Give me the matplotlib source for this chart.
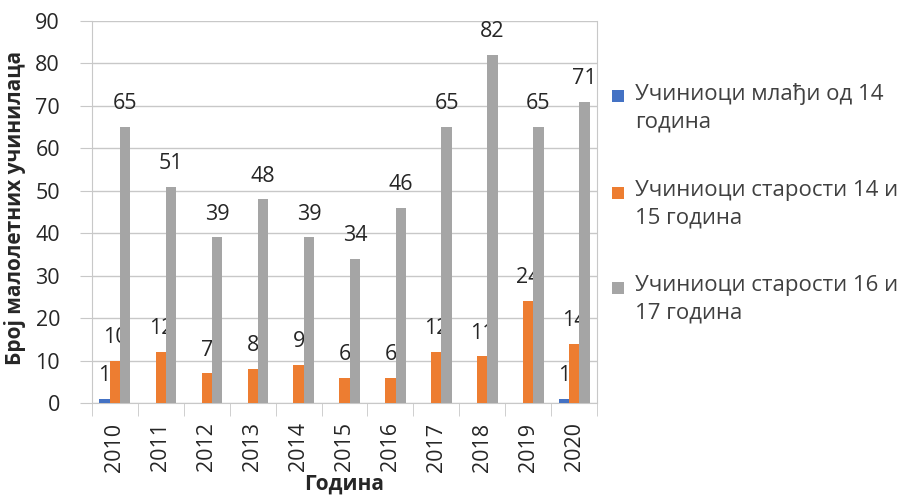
import matplotlib
matplotlib.use("Agg")
import matplotlib.pyplot as plt
from matplotlib.patches import Rectangle
import numpy as np

plt.rcParams['font.family'] = ['Open Sans', 'DejaVu Sans']

# data
years = ['2010', '2011', '2012', '2013', '2014', '2015', '2016', '2017', '2018', '2019', '2020']
under_14 = [1, 0, 0, 0, 0, 0, 0, 0, 0, 0, 1]
age_14_15 = [10, 12, 7, 8, 9, 6, 6, 12, 11, 24, 14]
age_16_17 = [65, 51, 39, 48, 39, 34, 46, 65, 82, 65, 71]
labels = ['Учиниоци млађи од 14\nгодина',
          'Учиниоци старости 14 и\n15 година',
          'Учиниоци старости 16 и\n17 година']
colors = ['#4472C4', '#ED7D31', '#A5A5A5']
txt = '#262626'
grid = '#C8C8C8'

W, H = 905, 495
fig = plt.figure(figsize=(W / 100, H / 100), dpi=100)
ax = fig.add_axes([92 / W, 1 - 403 / H, 505 / W, 382 / H])

x = np.arange(len(years))
w = 0.225
series = [under_14, age_14_15, age_16_17]
for i, (vals, lab, c) in enumerate(zip(series, labels, colors)):
    pos = x + (i - 1) * w
    ax.bar(pos, vals, width=w, color=c, label=lab, zorder=3)
    for p, v in zip(pos, vals):
        if v:
            ax.text(p, v + 3.0, str(v), ha='center', va='bottom', fontsize=15.5, color=txt)

ax.set_xlim(-0.5, len(years) - 0.5)
ax.set_ylim(0, 90)
ax.set_yticks(range(0, 91, 10))
ax.yaxis.grid(True, color=grid, linewidth=1, zorder=0)
ax.set_xticks(x)
ax.set_xticklabels(years, rotation=90, fontsize=15.5, color=txt)
ax.tick_params(axis='y', length=9, color=grid, labelsize=15.5, labelcolor=txt, pad=14)
ax.set_xticks(np.arange(-0.5, len(years)), minor=True)
ax.tick_params(axis='x', which='major', length=0, pad=14)
ax.tick_params(axis='x', which='minor', length=9, color=grid)
ax.spines['top'].set_visible(False)
for s in ['left', 'right', 'bottom']:
    ax.spines[s].set_color(grid)

ax.set_xlabel('Година', fontsize=15, fontweight='bold', color=txt)
ax.xaxis.set_label_coords(0.5, -0.185)
ax.set_ylabel('Број малолетних учинилаца', fontsize=15, fontweight='bold', color=txt)
ax.yaxis.set_label_coords(-0.13, 0.51)

# legend, Excel style: square marker beside the first line of each entry
for lab, c, yc in zip(labels, colors, [96, 193, 288]):
    fig.add_artist(Rectangle((612 / W, 1 - (yc + 6) / H), 12 / W, 12 / H,
                             facecolor=c, edgecolor='none', transform=fig.transFigure))
    fig.text(635 / W, 1 - (yc - 13) / H, lab, ha='left', va='top', fontsize=16,
             color='#404040', linespacing=1.42)

fig.savefig('out.png', dpi=100)
